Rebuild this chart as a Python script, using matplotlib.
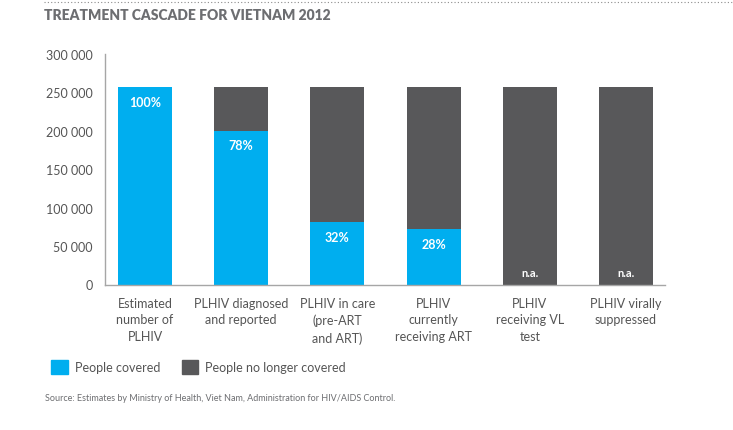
import matplotlib
matplotlib.use("Agg")
import matplotlib.pyplot as plt
from matplotlib.patches import Patch
from matplotlib.lines import Line2D

plt.rcParams['font.family'] = ['Lato', 'DejaVu Sans']

# Data
categories = [
    "Estimated\nnumber of\nPLHIV",
    "PLHIV diagnosed\nand reported",
    "PLHIV in care\n(pre-ART\nand ART)",
    "PLHIV\ncurrently\nreceiving ART",
    "PLHIV\nreceiving VL\ntest",
    "PLHIV virally\nsuppressed",
]
total = [257000, 257000, 257000, 257000, 257000, 257000]
covered = [257000, 200000, 81000, 72000, 0, 0]
pct_labels = ["100%", "78%", "32%", "28%", "n.a.", "n.a."]
yticks = [0, 50000, 100000, 150000, 200000, 250000, 300000]
ytick_labels = ["0", "50 000", "100 000", "150 000", "200 000", "250 000", "300 000"]

BLUE = "#00AEEF"
DARK = "#58585A"
TXT = "#555555"

fig = plt.figure(figsize=(7.33, 4.31), dpi=100)
ax = fig.add_axes([105/733, 1 - 285.5/431, (665-105)/733, (285.5-55)/431])

x = list(range(len(categories)))
not_covered = [t - c for t, c in zip(total, covered)]
ax.bar(x, covered, width=0.56, color=BLUE, label="People covered")
ax.bar(x, not_covered, width=0.56, bottom=covered, color=DARK, label="People no longer covered")

for i, lab in enumerate(pct_labels):
    if lab == "n.a.":
        ax.annotate(lab, (i, 0), xytext=(0, 8.5), textcoords="offset points",
                    ha="center", va="center", color="white", fontsize=8, fontweight="bold")
    else:
        ax.annotate(lab, (i, covered[i]), xytext=(0, -10.5), textcoords="offset points",
                    ha="center", va="center", color="white", fontsize=9, fontweight="bold")

ax.set_xlim(-0.416, 5.405)
ax.set_ylim(0, 300000)
ax.set_yticks(yticks)
ax.set_yticklabels(ytick_labels, color=TXT, fontsize=9)
ax.set_xticks(x)
ax.set_xticklabels(categories, color=TXT, fontsize=9, linespacing=1.45)
ax.tick_params(axis="both", length=0)
ax.tick_params(axis="y", pad=9)
ax.tick_params(axis="x", pad=9)
for s in ["top", "right"]:
    ax.spines[s].set_visible(False)
for s in ["left", "bottom"]:
    ax.spines[s].set_color("#A6A6A6")
    ax.spines[s].set_linewidth(1.0)

# title and dotted rule
fig.add_artist(Line2D([44/733, 1.0], [1 - 3/431, 1 - 3/431], color="#8C8C8C",
                      linestyle=(0, (1, 2)), linewidth=0.8))
fig.text(44/733, 1 - 16/431, "TREATMENT CASCADE FOR VIETNAM 2012", fontsize=10,
         fontweight="heavy", color="#6D6E71", va="center", ha="left")

handles = [Patch(color=BLUE), Patch(color=DARK)]
fig.legend(handles, ["People covered", "People no longer covered"], ncol=2,
           loc="center left", bbox_to_anchor=(40/733, 1 - 368/431), frameon=False,
           fontsize=9, labelcolor=TXT, handlelength=1.3, handleheight=1.3,
           handletextpad=0.6, columnspacing=1.7)

fig.text(45/733, 1 - 399/431,
         "Source: Estimates by Ministry of Health, Viet Nam, Administration for HIV/AIDS Control.",
         fontsize=6.5, color="#6D6E71", va="center", ha="left")

fig.savefig("out.png", dpi=100)
